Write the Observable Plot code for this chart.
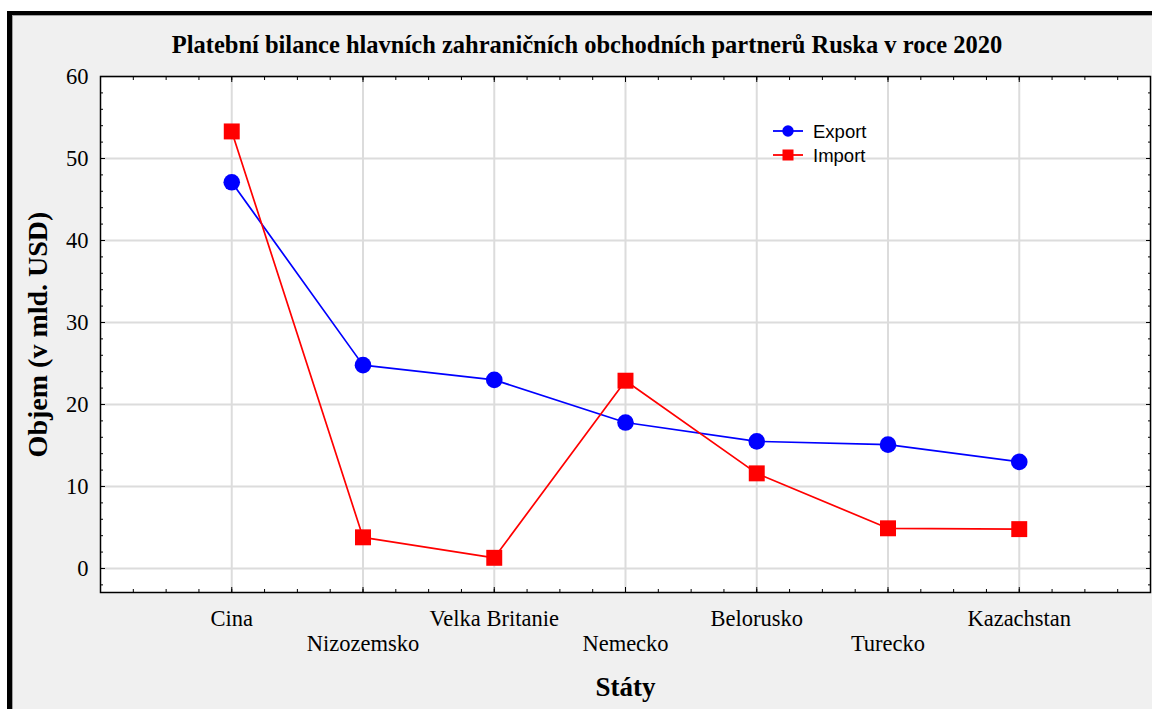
<!DOCTYPE html>
<html>
<head>
<meta charset="utf-8">
<script src="https://cdn.jsdelivr.net/npm/d3@7"></script>
<script src="https://cdn.jsdelivr.net/npm/@observablehq/plot@0.6"></script>
<style>
html, body { margin: 0; padding: 0; background: #fff; width: 1152px; height: 709px; overflow: hidden; }
#frame { position: absolute; left: 7px; top: 11px; width: 1145px; height: 698px; background: #f0f0f0;
  border-left: 5px solid #000; border-top: 4px solid #000; box-sizing: border-box;
  box-shadow: inset 1px 1px 0 #a0a0a0; }
#title { position: absolute; left: 0; top: 18px; width: 1140px; padding-left: 10px; box-sizing: border-box;
  text-align: center; font-family: "Liberation Serif", "Times New Roman", serif; font-weight: bold;
  font-size: 24.5px; line-height: 24.5px; color: #000; white-space: nowrap; }
#chart { position: absolute; left: 0; top: 45px; }
#legend { position: absolute; left: 0; top: 0; pointer-events: none; }
</style>
</head>
<body>
<div id="frame">
  <div id="title">Platební bilance hlavních zahraničních obchodních partnerů Ruska v roce 2020</div>
  <div id="chart"></div>
</div>
<svg id="legend" width="1152" height="709"></svg>
<script>
// ---- data ----
const categories = ["Cina", "Nizozemsko", "Velka Britanie", "Nemecko", "Belorusko", "Turecko", "Kazachstan"];
const exportVals = [47.1, 24.8, 23.0, 17.8, 15.5, 15.1, 13.0];
const importVals = [53.3, 3.8, 1.3, 22.9, 11.6, 4.9, 4.8];
const yTicks = [0, 10, 20, 30, 40, 50, 60];
const seriesNames = ["Export", "Import"];
const xTitle = "Státy";
const yTitle = "Objem (v mld. USD)";

// ---- derived ----
const idx = categories.map((_, i) => i);
const evenIdx = idx.filter(i => i % 2 === 0);
const oddIdx = idx.filter(i => i % 2 === 1);
const minorX = d3.range(-1, 7.0001, 0.25);
const minorY = d3.range(-2, 60.0001, 2);
const exportData = exportVals.map((v, i) => ({i, v}));
const importData = importVals.map((v, i) => ({i, v}));

const serif = '"Liberation Serif", "Times New Roman", serif';
const grid = "#dcdcdc";
const BLUE = "#0000ff", RED = "#ff0000";

const chart = Plot.plot({
  width: 1140,
  height: 649,
  marginLeft: 88,
  marginRight: 2,
  marginTop: 16,
  marginBottom: 117,
  style: { background: "transparent", fontFamily: serif, color: "#000", overflow: "visible" },
  x: { domain: [-1, 7], axis: null },
  y: { domain: [-2.93, 60], axis: null },
  marks: [
    Plot.frame({ fill: "white" }),
    Plot.gridY(yTicks, { stroke: grid, strokeOpacity: 1, strokeWidth: 2 }),
    Plot.gridX(idx, { stroke: grid, strokeOpacity: 1, strokeWidth: 2 }),
    // y tick labels
    Plot.axisY(yTicks, { anchor: "left", tickSize: 0, tickPadding: 12, fontSize: 22.5, fontFamily: serif, label: null, tickFormat: d => d }),
    // inward ticks left/right
    Plot.axisY(minorY, { anchor: "left", tickSize: -3, fill: "none", label: null }),
    Plot.axisY(yTicks, { anchor: "left", tickSize: -5, fill: "none", label: null }),
    Plot.axisY(minorY, { anchor: "right", tickSize: -3, fill: "none", label: null }),
    Plot.axisY(yTicks, { anchor: "right", tickSize: -5, fill: "none", label: null }),
    // inward ticks top/bottom
    Plot.axisX(minorX, { anchor: "bottom", tickSize: -3, fill: "none", label: null }),
    Plot.axisX(idx, { anchor: "bottom", tickSize: -5, fill: "none", label: null }),
    Plot.axisX(minorX, { anchor: "top", tickSize: -3, fill: "none", label: null }),
    Plot.axisX(idx, { anchor: "top", tickSize: -5, fill: "none", label: null }),
    // category labels in two staggered rows
    Plot.axisX(evenIdx, { anchor: "bottom", tickSize: 0, tickPadding: 17.5, fontSize: 22.5, fontFamily: serif, label: null, tickFormat: i => categories[i] }),
    Plot.axisX(oddIdx, { anchor: "bottom", tickSize: 0, tickPadding: 42.5, fontSize: 22.5, fontFamily: serif, label: null, tickFormat: i => categories[i] }),
    // series
    Plot.line(exportData, { x: "i", y: "v", stroke: BLUE, strokeWidth: 1.7 }),
    Plot.dot(exportData, { x: "i", y: "v", r: 8.3, fill: BLUE, stroke: "none" }),
    Plot.line(importData, { x: "i", y: "v", stroke: RED, strokeWidth: 1.7 }),
    Plot.dot(importData, { x: "i", y: "v", symbol: "square", r: 9, fill: RED, stroke: "none" }),
    // axis titles
    Plot.text([yTitle], { frameAnchor: "left", textAnchor: "middle", rotate: -90, dx: -62, fontSize: 28, fontWeight: "bold", fontFamily: serif, fill: "#000" }),
    Plot.text([xTitle], { frameAnchor: "bottom", textAnchor: "middle", dy: 103, fontSize: 27, fontWeight: "bold", fontFamily: serif, fill: "#000" }),
    Plot.frame({ stroke: "#000", strokeWidth: 1.5 })
  ]
});
document.getElementById("chart").appendChild(chart);

// ---- legend ----
const lg = d3.select("#legend");
const colors = [BLUE, RED];
seriesNames.forEach((name, k) => {
  const cy = 131 + k * 24;
  const g = lg.append("g");
  g.append("line").attr("x1", 773).attr("x2", 803).attr("y1", cy).attr("y2", cy)
    .attr("stroke", colors[k]).attr("stroke-width", 1.8);
  if (k === 0) g.append("circle").attr("cx", 788).attr("cy", cy).attr("r", 5.7).attr("fill", colors[k]);
  else g.append("rect").attr("x", 782.5).attr("y", cy - 5.5).attr("width", 11).attr("height", 11).attr("fill", colors[k]);
  g.append("text").attr("x", 813).attr("y", cy + 7).attr("font-family", '"Liberation Sans", Arial, sans-serif')
    .attr("font-size", 18.5).attr("fill", "#000").text(name);
});
</script>
</body>
</html>
